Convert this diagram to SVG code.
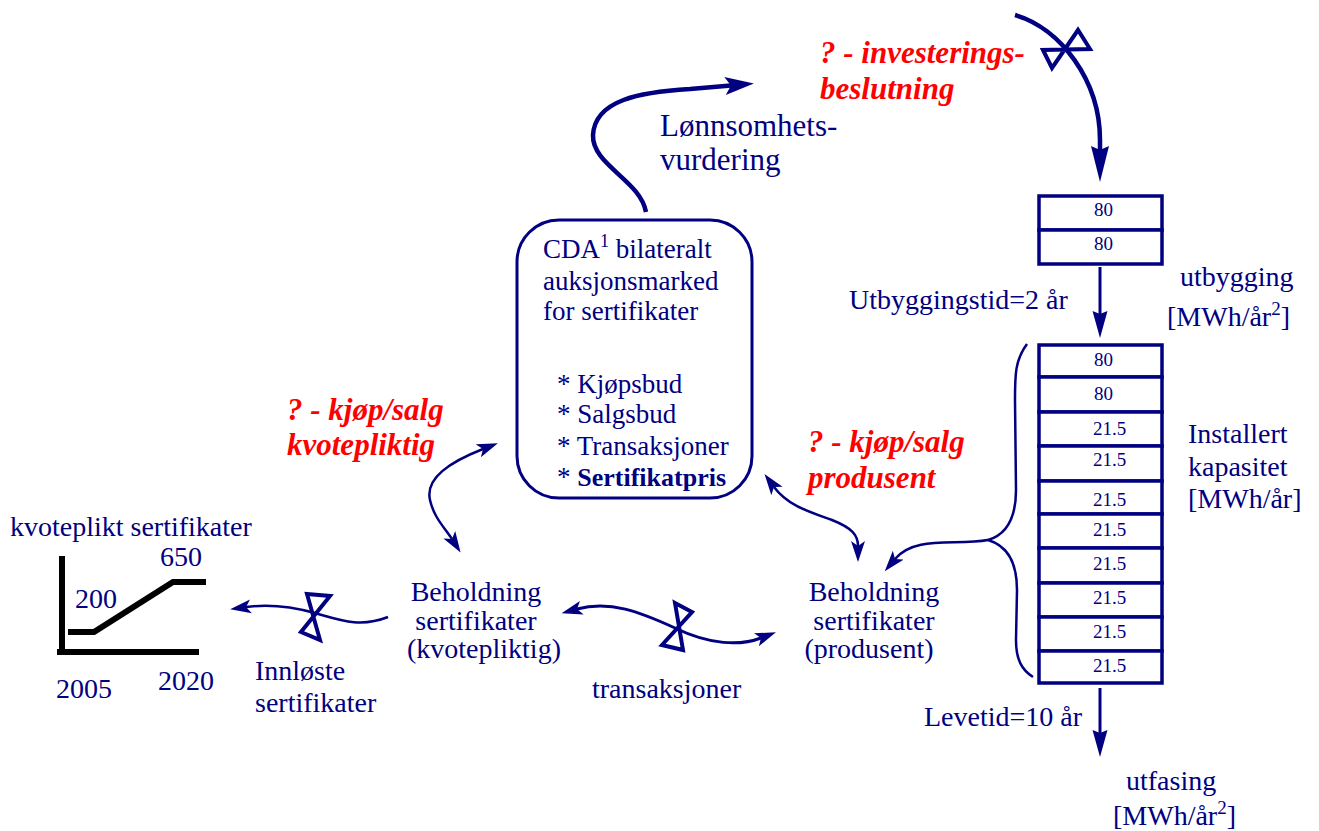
<svg xmlns="http://www.w3.org/2000/svg" width="1319" height="831" viewBox="0 0 1319 831">
<style>
text{font-family:"Liberation Serif","Times New Roman",serif;fill:#000080;font-size:28px}
.red{fill:#ff0000;font-weight:bold;font-style:italic;font-size:31px}
.num{font-size:19px}
.cell{fill:#fff;stroke:#000080;stroke-width:3.5}
.flow{fill:none;stroke:#000080;stroke-linecap:butt}
.valve{fill:none;stroke:#000080;stroke-width:4;stroke-linejoin:miter}
.axis{fill:none;stroke:#000;stroke-width:6}
</style>
<defs>
<marker id="ahB" markerUnits="userSpaceOnUse" viewBox="0 0 30 20" markerWidth="30" markerHeight="20" refX="6" refY="10" orient="auto-start-reverse"><path d="M0,1 L29,10 L0,19 L6,10 z" fill="#000080"/></marker>
<marker id="ahT" markerUnits="userSpaceOnUse" viewBox="0 0 36 20" markerWidth="36" markerHeight="20" refX="4" refY="10" orient="auto-start-reverse"><path d="M0,1 L36,10 L0,19 L4,10 z" fill="#000080"/></marker>
<marker id="ahV" markerUnits="userSpaceOnUse" viewBox="0 0 28 16" markerWidth="28" markerHeight="16" refX="3" refY="8" orient="auto-start-reverse"><path d="M0,0.5 L27,8 L0,15.5 L3,8 z" fill="#000080"/></marker>
<marker id="ahS" markerUnits="userSpaceOnUse" viewBox="0 0 22 15" markerWidth="22" markerHeight="15" refX="5" refY="7.5" orient="auto-start-reverse"><path d="M0,0.5 L21,7.5 L0,14.5 L5,7.5 z" fill="#000080"/></marker>
</defs>
<rect width="1319" height="831" fill="#fff"/>

<g id="connectors">
<path class="flow" stroke-width="4.5" d="M646,212 C640,180 592,165 593,135 C595,100 640,92 690,89 L731,85.5" marker-end="url(#ahB)"/>
<path class="flow" stroke-width="4.5" d="M1015,15 C1060,28 1100,80 1100,140 L1100,150" marker-end="url(#ahT)"/>
<path class="flow" stroke-width="3" d="M1100,267 L1100,314" marker-end="url(#ahV)"/>
<path class="flow" stroke-width="3" d="M1100,688 L1100,733" marker-end="url(#ahV)"/>
<path class="flow" stroke-width="2.5" d="M388,617 C360,628 340,620 315,613 C290,606 268,604 246,607" marker-end="url(#ahS)"/>
<path class="flow" stroke-width="3" d="M577,609 C610,600 640,612 675,628 C710,645 740,646 761,638" marker-start="url(#ahS)" marker-end="url(#ahS)"/>
<path class="flow" stroke-width="2.5" d="M483,449 C450,462 425,478 430,500 C434,518 445,528 452,539" marker-start="url(#ahS)" marker-end="url(#ahS)"/>
<path class="flow" stroke-width="2.5" d="M774,487 C788,506 810,512 832,520 C852,528 858,535 858,546" marker-start="url(#ahS)" marker-end="url(#ahS)"/>
<path class="flow" stroke-width="2.5" d="M988,540 C955,546 915,535 895,559" marker-end="url(#ahS)"/>
<path class="flow" stroke-width="2.5" d="M1027,344 C1015,360 1015,375 1015,400 L1016,490 C1016,520 1005,535 988,540 C1005,545 1017,560 1017,590 L1016,640 C1016,660 1022,670 1033,677"/>
</g>

<g id="valve-investering"><polygon class="valve" points="1043,50 1052,68 1078,30 1090,49"/></g>
<g id="valve-innloste"><polygon class="valve" points="307,594 330,596 301,632 320,640"/></g>
<g id="valve-transaksjoner"><polygon class="valve" points="675,603 692,612 662,645 683,650"/></g>

<g id="lonnsomhet">
<text x="660" y="136" style="font-size:31px">Lønnsomhets-</text>
<text x="660" y="170" style="font-size:31px">vurdering</text>
</g>

<g id="investeringsbeslutning">
<text class="red" x="820" y="63">? - investerings-</text>
<text class="red" x="820" y="99">beslutning</text>
</g>

<g id="cda-marked">
<rect x="517" y="220" width="235" height="278" rx="42" ry="42" fill="#fff" stroke="#000080" stroke-width="3"/>
<text x="543" y="258" style="font-size:27px">CDA<tspan dy="-11" style="font-size:18px">1</tspan><tspan dy="11"> bilateralt</tspan></text>
<text x="543" y="290" style="font-size:27px">auksjonsmarked</text>
<text x="543" y="320" style="font-size:27px">for sertifikater</text>
<text x="557" y="393" style="font-size:27px">* Kjøpsbud</text>
<text x="557" y="423" style="font-size:27px">* Salgsbud</text>
<text x="557" y="455" style="font-size:27px">* Transaksjoner</text>
<text x="557" y="486" style="font-size:27px">* <tspan font-weight="bold" style="font-size:26px">Sertifikatpris</tspan></text>
</g>

<g id="utbygging-stack">
<rect class="cell" x="1039" y="196" width="123" height="34"/>
<rect class="cell" x="1039" y="230" width="123" height="34"/>
<text class="num" x="1094" y="216">80</text>
<text class="num" x="1094" y="250">80</text>
</g>

<g id="utbygging-label">
<text x="1180" y="286">utbygging</text>
<text x="1167" y="326">[MWh/år<tspan dy="-11" style="font-size:19px">2</tspan><tspan dy="11">]</tspan></text>
</g>
<g id="utbyggingstid"><text x="849" y="309">Utbyggingstid=2 år</text></g>

<g id="kapasitet-stack">
<rect class="cell" x="1039" y="345" width="123" height="32"/>
<rect class="cell" x="1039" y="377" width="123" height="35"/>
<rect class="cell" x="1039" y="412" width="123" height="34"/>
<rect class="cell" x="1039" y="446" width="123" height="35"/>
<rect class="cell" x="1039" y="481" width="123" height="33"/>
<rect class="cell" x="1039" y="514" width="123" height="34"/>
<rect class="cell" x="1039" y="548" width="123" height="35"/>
<rect class="cell" x="1039" y="583" width="123" height="34"/>
<rect class="cell" x="1039" y="617" width="123" height="34"/>
<rect class="cell" x="1039" y="651" width="123" height="32"/>
<text class="num" x="1094" y="366">80</text>
<text class="num" x="1094" y="400">80</text>
<text class="num" x="1093" y="435">21.5</text>
<text class="num" x="1093" y="466">21.5</text>
<text class="num" x="1093" y="506">21.5</text>
<text class="num" x="1093" y="536">21.5</text>
<text class="num" x="1093" y="570">21.5</text>
<text class="num" x="1093" y="604">21.5</text>
<text class="num" x="1093" y="638">21.5</text>
<text class="num" x="1093" y="672">21.5</text>
</g>

<g id="kapasitet-label">
<text x="1188" y="443">Installert</text>
<text x="1188" y="476">kapasitet</text>
<text x="1188" y="508">[MWh/år]</text>
</g>

<g id="levetid"><text x="924" y="726">Levetid=10 år</text></g>
<g id="utfasing">
<text x="1126" y="790">utfasing</text>
<text x="1113" y="825">[MWh/år<tspan dy="-11" style="font-size:19px">2</tspan><tspan dy="11">]</tspan></text>
</g>

<g id="kjop-salg-kvotepliktig">
<text class="red" x="287" y="420">? - kjøp/salg</text>
<text class="red" x="287" y="455">kvotepliktig</text>
</g>
<g id="kjop-salg-produsent">
<text class="red" x="808" y="452">? - kjøp/salg</text>
<text class="red" x="808" y="488">produsent</text>
</g>

<g id="beholdning-kvotepliktig" text-anchor="middle">
<text x="476" y="601">Beholdning</text>
<text x="476" y="630">sertifikater</text>
<text x="484" y="658">(kvotepliktig)</text>
</g>
<g id="beholdning-produsent" text-anchor="middle">
<text x="874" y="601">Beholdning</text>
<text x="874" y="630">sertifikater</text>
<text x="869" y="658">(produsent)</text>
</g>

<g id="transaksjoner-label"><text x="592" y="698">transaksjoner</text></g>
<g id="innloste-label">
<text x="255" y="680">Innløste</text>
<text x="255" y="712">sertifikater</text>
</g>

<g id="kvoteplikt-graf">
<text x="10" y="536">kvoteplikt sertifikater</text>
<text x="160" y="566">650</text>
<text x="75" y="608">200</text>
<text x="56" y="698">2005</text>
<text x="158" y="690">2020</text>
<line class="axis" x1="62" y1="556" x2="62" y2="655"/>
<line class="axis" x1="57" y1="652" x2="199" y2="652"/>
<polyline class="axis" points="68,632 94,632 173,582 206,582"/>
</g>
</svg>
